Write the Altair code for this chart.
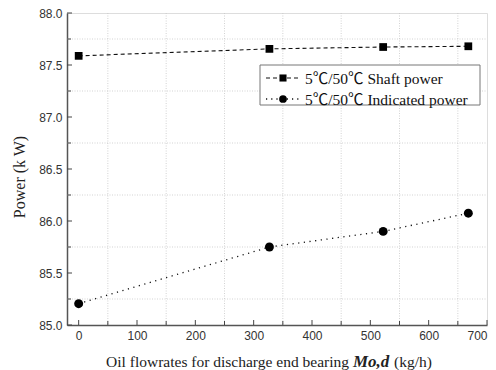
import altair as alt
import pandas as pd

# ---- data ----
flow = [0, 327, 522, 668]
shaft_power = [87.588, 87.655, 87.673, 87.680]
indicated_power = [85.205, 85.750, 85.900, 86.075]
series_names = ["5℃/50℃ Shaft power", "5℃/50℃ Indicated power"]

x_major = [0, 100, 200, 300, 400, 500, 600, 700]
x_minor = [50, 150, 250, 350, 450, 550, 650]
y_major = [85.0, 85.5, 86.0, 86.5, 87.0, 87.5, 88.0]
y_minor = [85.25, 85.75, 86.25, 86.75, 87.25, 87.75]

W, H = 420, 312
SERIF = "Liberation Serif, 'Noto Sans CJK SC', serif"
SANS = "Liberation Sans"

xs = alt.Scale(domain=[-20, 700], nice=False, zero=False)
ys = alt.Scale(domain=[85, 88], nice=False, zero=False)

df = pd.DataFrame({
    "flow": flow * 2,
    "power": shaft_power + indicated_power,
    "series": [series_names[0]] * len(flow) + [series_names[1]] * len(flow),
})
shaft_df = df[df.series == series_names[0]]
ind_df = df[df.series == series_names[1]]

xmaj = pd.DataFrame({"v": x_major})
xmin = pd.DataFrame({"v": x_minor})
ymaj = pd.DataFrame({"v": y_major})
ymin = pd.DataFrame({"v": y_minor})

grid_style = dict(color="#c8c8c8", strokeDash=[1, 1.5], strokeWidth=0.8)

vgrid = alt.Chart(xmin).mark_rule(**grid_style).encode(
    x=alt.X("v:Q", scale=xs), y=alt.value(0), y2=alt.value(H))
hgrid = alt.Chart(ymin).mark_rule(**grid_style).encode(
    y=alt.Y("v:Q", scale=ys), x=alt.value(0), x2=alt.value(W))

tick_color = "#444"
xt_major = alt.Chart(xmaj).mark_rule(color=tick_color, strokeWidth=1).encode(
    x=alt.X("v:Q", scale=xs), y=alt.value(H), y2=alt.value(H - 5))
xt_minor = alt.Chart(xmin).mark_rule(color=tick_color, strokeWidth=1).encode(
    x=alt.X("v:Q", scale=xs), y=alt.value(H), y2=alt.value(H - 4))
yt_major = alt.Chart(ymaj).mark_rule(color=tick_color, strokeWidth=1).encode(
    y=alt.Y("v:Q", scale=ys), x=alt.value(0), x2=alt.value(5))
yt_minor = alt.Chart(ymin).mark_rule(color=tick_color, strokeWidth=1).encode(
    y=alt.Y("v:Q", scale=ys), x=alt.value(0), x2=alt.value(4))

x_axis = alt.Axis(values=x_major, title=None, ticks=False, grid=False,
                  labelFont=SANS, labelFontSize=12, labelColor="#333",
                  labelPadding=5, domainColor="#555", domainWidth=1.5,
                  format="d")
y_axis = alt.Axis(values=y_major, title=None, ticks=False, grid=False,
                  labelFont=SANS, labelFontSize=12, labelColor="#333",
                  labelPadding=5, domainColor="#555", domainWidth=1.5,
                  format=".1f")

shaft_line = alt.Chart(shaft_df).mark_line(
    color="#111", strokeWidth=1.1, strokeDash=[4, 3]).encode(
    x=alt.X("flow:Q", scale=xs, axis=x_axis),
    y=alt.Y("power:Q", scale=ys, axis=y_axis))
shaft_pts = alt.Chart(shaft_df).mark_point(
    shape="square", filled=True, color="#000", size=60, opacity=1).encode(
    x=alt.X("flow:Q", scale=xs), y=alt.Y("power:Q", scale=ys))
ind_line = alt.Chart(ind_df).mark_line(
    color="#111", strokeWidth=1.3, strokeDash=[1.2, 4.5]).encode(
    x=alt.X("flow:Q", scale=xs), y=alt.Y("power:Q", scale=ys))
ind_pts = alt.Chart(ind_df).mark_point(
    shape="circle", filled=True, color="#000", size=80, opacity=1).encode(
    x=alt.X("flow:Q", scale=xs), y=alt.Y("power:Q", scale=ys))

# ---- legend (drawn by hand) ----
leg = pd.DataFrame({"series": series_names})
LX0, LX1, LY0, LY1 = 193, 413, 52, 92
legend_box = alt.Chart(leg.head(1)).mark_rect(
    fill="white", stroke="#777", strokeWidth=1).encode(
    x=alt.value(LX0), x2=alt.value(LX1), y=alt.value(LY0), y2=alt.value(LY1))
rows = [65, 86]
legend_layers = [legend_box]
for i, (dash, shape, sz, sw) in enumerate([([4, 3], "square", 50, 1.1),
                                            ([1.2, 4], "circle", 60, 1.3)]):
    d = leg.iloc[[i]]
    legend_layers.append(alt.Chart(d).mark_rule(
        color="#111", strokeDash=dash, strokeWidth=sw).encode(
        x=alt.value(199), x2=alt.value(234), y=alt.value(rows[i])))
    legend_layers.append(alt.Chart(d).mark_point(
        shape=shape, filled=True, color="#000", size=sz, opacity=1).encode(
        x=alt.value(216), y=alt.value(rows[i])))
    legend_layers.append(alt.Chart(d).mark_text(
        align="left", baseline="middle", font=SERIF, fontSize=15.5,
        color="#111").encode(
        x=alt.value(238), y=alt.value(rows[i] + 1), text="series:N"))

# ---- axis titles (mixed styles) ----
ttl = pd.DataFrame({"t": ["Oil flowrates for discharge end bearing",
                          "Mo,d", "(kg/h)", "Power (k W)"]})
TY = H + 42
xt1 = alt.Chart(ttl.iloc[[0]]).mark_text(
    align="right", baseline="alphabetic", font=SERIF, fontSize=15.5,
    color="#222").encode(x=alt.value(282), y=alt.value(TY), text="t:N")
xt2 = alt.Chart(ttl.iloc[[1]]).mark_text(
    align="left", baseline="alphabetic", font=SERIF, fontSize=17,
    fontWeight="bold", fontStyle="italic", color="#222").encode(
    x=alt.value(286), y=alt.value(TY), text="t:N")
xt3 = alt.Chart(ttl.iloc[[2]]).mark_text(
    align="left", baseline="alphabetic", font=SERIF, fontSize=15.5,
    color="#222").encode(x=alt.value(327), y=alt.value(TY), text="t:N")
yt = alt.Chart(ttl.iloc[[3]]).mark_text(
    align="center", baseline="middle", font=SERIF, fontSize=16, angle=270,
    color="#222").encode(x=alt.value(-47), y=alt.value(164), text="t:N")

chart = alt.layer(
    vgrid, hgrid, xt_major, xt_minor, yt_major, yt_minor,
    shaft_line, ind_line, shaft_pts, ind_pts,
    *legend_layers, xt1, xt2, xt3, yt,
).properties(
    width=W, height=H,
    autosize=alt.AutoSizeParams(type="none"),
    padding={"left": 67, "top": 13, "right": 9, "bottom": 45},
).configure_view(stroke="#555", strokeWidth=1.5).configure(background="white")

chart.save("out.html", embed_options={"renderer": "svg", "actions": False})
